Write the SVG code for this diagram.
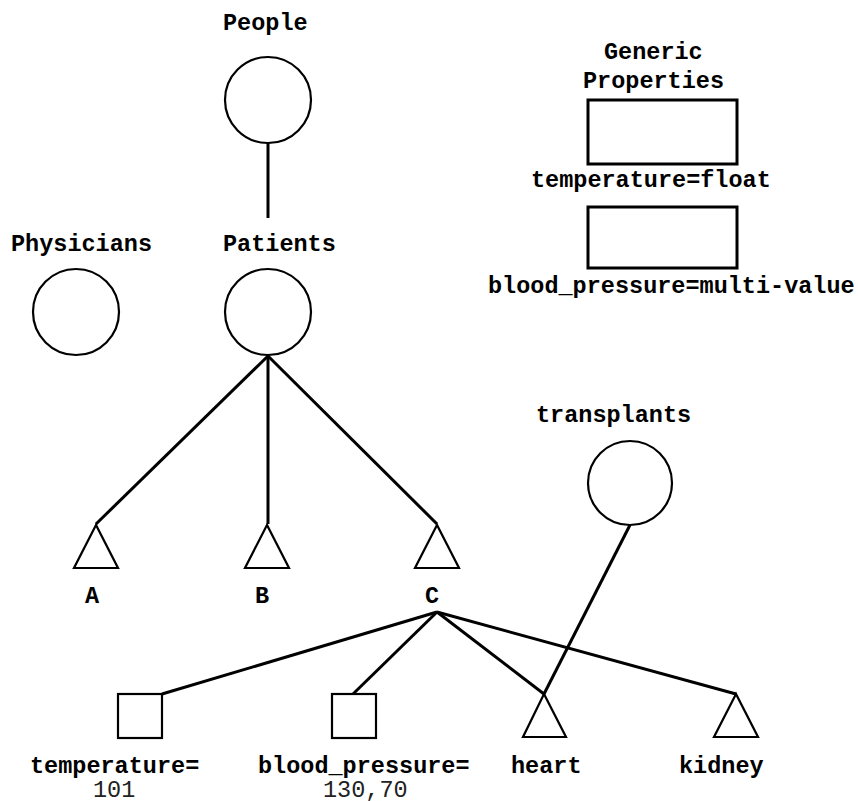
<svg xmlns="http://www.w3.org/2000/svg" width="858" height="801" viewBox="0 0 858 801">
<style>
text { font-family: "Liberation Mono", "Courier New", monospace; font-size: 23.5px; font-weight: bold; fill: #000; }
text.val { font-weight: normal; fill: #222; }
.shape { fill: #fff; stroke: #000; stroke-width: 2.2; }
.rect { fill: #fff; stroke: #000; stroke-width: 3; }
#connectors line { stroke: #000; stroke-width: 3; stroke-linecap: butt; }
</style>
<rect width="858" height="801" fill="#fff"/>
<g id="connectors">
<line x1="268" y1="143" x2="268" y2="218"/>
<line x1="268" y1="356" x2="96" y2="524"/>
<line x1="268" y1="356" x2="268" y2="524"/>
<line x1="268" y1="356" x2="437" y2="524"/>
<line x1="437" y1="612" x2="162" y2="694"/>
<line x1="437" y1="612" x2="353" y2="694"/>
<line x1="437" y1="612" x2="544" y2="694"/>
<line x1="437" y1="612" x2="736" y2="694"/>
<line x1="630" y1="525" x2="544" y2="694"/>
</g>
<g id="people">
<text x="223" y="30">People</text>
<circle class="shape" cx="268" cy="100" r="43"/>
</g>
<g id="physicians">
<text x="11" y="251">Physicians</text>
<circle class="shape" cx="76" cy="312" r="43"/>
</g>
<g id="patients">
<text x="223" y="251">Patients</text>
<circle class="shape" cx="268" cy="312" r="43"/>
</g>
<g id="generic">
<text x="604" y="59">Generic</text>
<text x="583" y="88">Properties</text>
</g>
<g id="prop-temperature">
<rect class="rect" x="588" y="100" width="149" height="64"/>
<text x="531" y="187">temperature=float</text>
</g>
<g id="prop-blood">
<rect class="rect" x="588" y="207" width="149" height="61"/>
<text x="488" y="293">blood_pressure=multi-value</text>
</g>
<g id="node-a">
<polygon class="shape" points="96,525 74,568 118,568"/>
<text x="85" y="603">A</text>
</g>
<g id="node-b">
<polygon class="shape" points="267,525 245,568 289,568"/>
<text x="255" y="603">B</text>
</g>
<g id="node-c">
<polygon class="shape" points="437,525 415,568 459,568"/>
<text x="425" y="603">C</text>
</g>
<g id="transplants">
<text x="536" y="422">transplants</text>
<circle class="shape" cx="630" cy="483" r="42"/>
</g>
<g id="temp-value">
<rect class="shape" x="118" y="694" width="44" height="44"/>
<text x="30" y="773">temperature=</text>
<text class="val" x="93" y="797">101</text>
</g>
<g id="bp-value">
<rect class="shape" x="332" y="694" width="44" height="44"/>
<text x="258" y="773">blood_pressure=</text>
<text class="val" x="323" y="797">130,70</text>
</g>
<g id="heart">
<polygon class="shape" points="544,694 523,737 566,737"/>
<text x="511" y="773">heart</text>
</g>
<g id="kidney">
<polygon class="shape" points="736,694 714,737 758,737"/>
<text x="679" y="773">kidney</text>
</g>
</svg>
